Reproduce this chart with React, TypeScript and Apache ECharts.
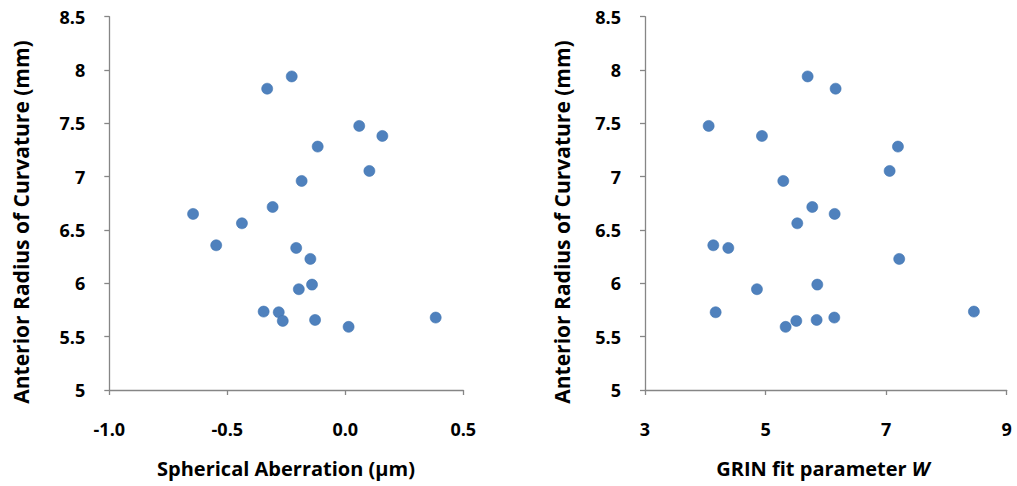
import React, { useEffect, useRef } from "react";
import * as echarts from "echarts";

// Anterior radius of curvature (mm) vs spherical aberration (µm)
const saX = [-0.331, -0.227, 0.059, 0.157, -0.117, 0.102, -0.185, -0.308, -0.645, -0.438, -0.547, -0.208, -0.148, -0.141, -0.197, -0.346, -0.282, -0.265, -0.128, 0.014, 0.383];
const saY = [7.825, 7.94, 7.476, 7.382, 7.282, 7.054, 6.96, 6.716, 6.651, 6.563, 6.357, 6.332, 6.229, 5.988, 5.945, 5.735, 5.729, 5.648, 5.657, 5.592, 5.679];

// Anterior radius of curvature (mm) vs GRIN fit parameter W
const wX = [5.698, 6.162, 4.056, 4.94, 7.196, 7.058, 5.294, 5.775, 6.146, 5.526, 4.133, 4.382, 7.217, 5.858, 4.857, 4.172, 8.456, 5.333, 5.51, 5.847, 6.14];
const wY = [7.94, 7.825, 7.476, 7.382, 7.282, 7.054, 6.96, 6.716, 6.651, 6.563, 6.357, 6.332, 6.229, 5.988, 5.945, 5.729, 5.735, 5.592, 5.648, 5.657, 5.679];

const yTitle = "Anterior Radius of Curvature (mm)";
const xTitleLeft = "Spherical Aberration (µm)";

const FONT = "'Open Sans', 'DejaVu Sans', sans-serif";
const AXIS_COLOR = "#868686";
const DOT = "#4f81bd";

export default function App() {
  const ref = useRef<HTMLDivElement>(null);
  useEffect(() => {
    if (!ref.current) return;
    const chart = echarts.init(ref.current, null, { renderer: "svg" });
    const axisCommon = {
      axisLine: { show: true, onZero: false, lineStyle: { color: AXIS_COLOR, width: 1.3 } },
      axisTick: { show: true, length: 5, inside: false, lineStyle: { color: AXIS_COLOR, width: 1.3 } },
      splitLine: { show: false },
    };
    const yAxisCommon = (gi: number) => ({
      type: "value",
      gridIndex: gi,
      min: 5,
      max: 8.5,
      interval: 0.5,
      ...axisCommon,
      axisLabel: {
        margin: 24,
        color: "#000",
        fontFamily: FONT,
        fontWeight: "bold",
        fontSize: 18,
        formatter: (v: number) => String(v),
      },
    });
    const xLabel = (margin: number) => ({
      margin,
      color: "#000",
      fontFamily: FONT,
      fontWeight: "bold",
      fontSize: 18,
    });
    const option: any = {
      animation: false,
      backgroundColor: "#fff",
      grid: [
        { left: 109.3, top: 16.7, width: 354, height: 373.3 },
        { left: 645, top: 16.7, width: 361.7, height: 373.3 },
      ],
      xAxis: [
        {
          type: "value",
          gridIndex: 0,
          min: -1,
          max: 0.5,
          interval: 0.5,
          ...axisCommon,
          axisLabel: { ...xLabel(30), formatter: (v: number) => v.toFixed(1) },
        },
        {
          type: "value",
          gridIndex: 1,
          min: 3,
          max: 9,
          interval: 2,
          ...axisCommon,
          axisLabel: { ...xLabel(30), formatter: (v: number) => String(v) },
        },
      ],
      yAxis: [yAxisCommon(0), yAxisCommon(1)],
      graphic: [
        {
          type: "text",
          x: 21,
          y: 222,
          rotation: Math.PI / 2,
          style: {
            text: yTitle,
            fill: "#000",
            font: `bold 21px ${FONT}`,
            align: "center",
            verticalAlign: "middle",
          },
        },
        {
          type: "text",
          x: 562,
          y: 222,
          rotation: Math.PI / 2,
          style: {
            text: yTitle,
            fill: "#000",
            font: `bold 21px ${FONT}`,
            align: "center",
            verticalAlign: "middle",
          },
        },
        {
          type: "text",
          x: 286,
          y: 468,
          style: {
            text: xTitleLeft,
            fill: "#000",
            font: `bold 20px ${FONT}`,
            align: "center",
            verticalAlign: "middle",
          },
        },
        {
          type: "text",
          x: 823,
          y: 468,
          style: {
            rich: {
              n: { fill: "#000", font: `bold 20px ${FONT}` },
              i: { fill: "#000", font: `italic bold 20px ${FONT}` },
            },
            text: "{n|GRIN fit parameter }{i|W}",
            align: "center",
            verticalAlign: "middle",
          },
        },
      ],
      series: [
        {
          type: "scatter",
          xAxisIndex: 0,
          yAxisIndex: 0,
          symbol: "circle",
          symbolSize: 11,
          itemStyle: { color: DOT, opacity: 1, borderColor: "#4176b2", borderWidth: 0.6 },
          data: saX.map((x, i) => [x, saY[i]]),
        },
        {
          type: "scatter",
          xAxisIndex: 1,
          yAxisIndex: 1,
          symbol: "circle",
          symbolSize: 11,
          itemStyle: { color: DOT, opacity: 1, borderColor: "#4176b2", borderWidth: 0.6 },
          data: wX.map((x, i) => [x, wY[i]]),
        },
      ],
    };
    chart.setOption(option);
    return () => chart.dispose();
  }, []);
  return (
    <div
      ref={ref}
      style={{ position: "absolute", left: 0, top: 0, width: 1017, height: 486, background: "#fff" }}
    />
  );
}
